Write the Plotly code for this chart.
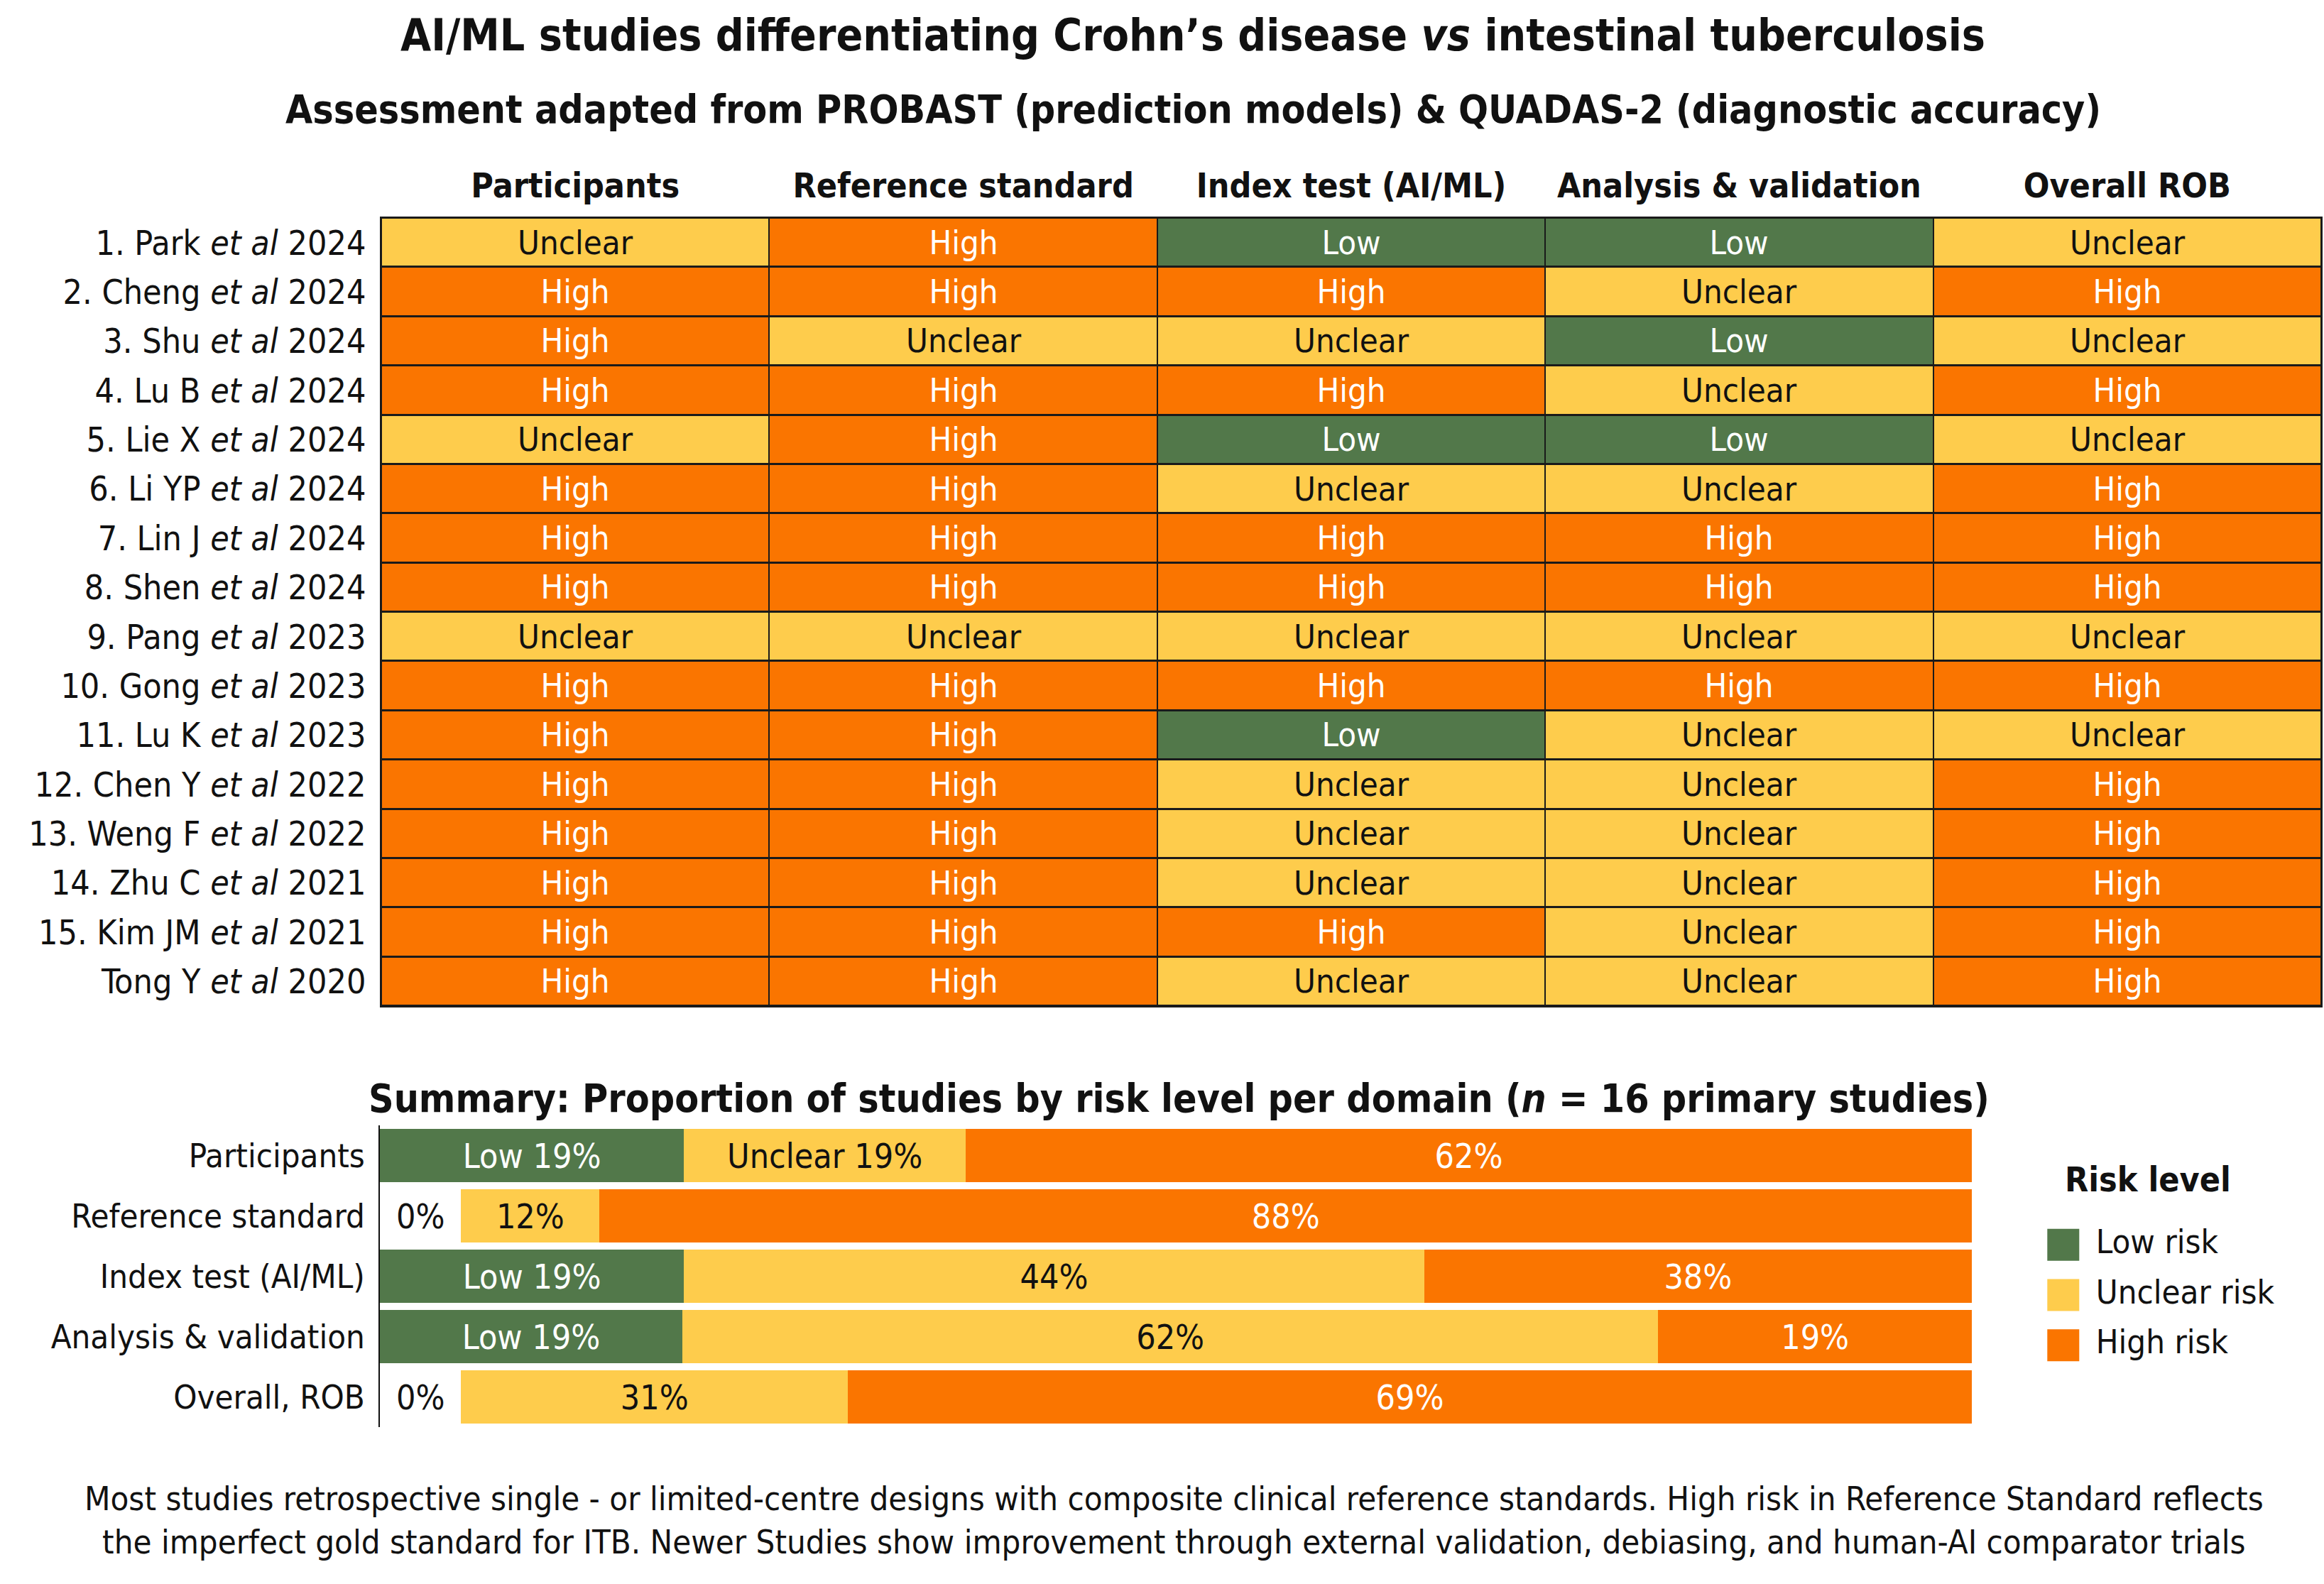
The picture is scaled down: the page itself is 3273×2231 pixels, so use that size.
import plotly.graph_objects as go

FONT = "DejaVu Sans Condensed"
INK = "#111111"
GREEN = "#52784A"
YELLOW = "#FECC4C"
ORANGE = "#FA7500"
W, H = 3273, 2231

# ---- risk-of-bias table ----
studies = [
    "1. Park <i>et al</i> 2024",
    "2. Cheng <i>et al</i> 2024",
    "3. Shu <i>et al</i> 2024",
    "4. Lu B <i>et al</i> 2024",
    "5. Lie X <i>et al</i> 2024",
    "6. Li YP <i>et al</i> 2024",
    "7. Lin J <i>et al</i> 2024",
    "8. Shen <i>et al</i> 2024",
    "9. Pang <i>et al</i> 2023",
    "10. Gong <i>et al</i> 2023",
    "11. Lu K <i>et al</i> 2023",
    "12. Chen Y <i>et al</i> 2022",
    "13. Weng F <i>et al</i> 2022",
    "14. Zhu C <i>et al</i> 2021",
    "15. Kim JM <i>et al</i> 2021",
    "Tong Y <i>et al</i> 2020",
]
domains = ["Participants", "Reference standard", "Index test (AI/ML)",
           "Analysis & validation", "Overall ROB"]
ratings = [
    ["Unclear", "High", "Low", "Low", "Unclear"],
    ["High", "High", "High", "Unclear", "High"],
    ["High", "Unclear", "Unclear", "Low", "Unclear"],
    ["High", "High", "High", "Unclear", "High"],
    ["Unclear", "High", "Low", "Low", "Unclear"],
    ["High", "High", "Unclear", "Unclear", "High"],
    ["High", "High", "High", "High", "High"],
    ["High", "High", "High", "High", "High"],
    ["Unclear", "Unclear", "Unclear", "Unclear", "Unclear"],
    ["High", "High", "High", "High", "High"],
    ["High", "High", "Low", "Unclear", "Unclear"],
    ["High", "High", "Unclear", "Unclear", "High"],
    ["High", "High", "Unclear", "Unclear", "High"],
    ["High", "High", "Unclear", "Unclear", "High"],
    ["High", "High", "High", "Unclear", "High"],
    ["High", "High", "Unclear", "Unclear", "High"],
]

levels = ["Low", "Unclear", "High"]
level_fill = {"Low": GREEN, "Unclear": YELLOW, "High": ORANGE}
level_ink = {"Low": "white", "Unclear": INK, "High": "white"}

# ---- summary bars (segment lengths as drawn, % of bar) ----
summary_domains = ["Participants", "Reference standard", "Index test (AI/ML)",
                   "Analysis & validation", "Overall, ROB"]
low_share = [19.1, 0, 19.1, 19.0, 0]
blank_share = [0, 5.1, 0, 0, 5.1]
unclear_share = [17.7, 8.7, 46.5, 61.3, 24.3]
high_share = [63.2, 86.2, 34.4, 19.7, 70.6]
low_labels = ["Low 19%", "", "Low 19%", "Low 19%", ""]
blank_labels = ["", "0%", "", "", "0%"]
unclear_labels = ["Unclear 19%", "12%", "44%", "62%", "31%"]
high_labels = ["62%", "88%", "38%", "19%", "69%"]

legend_labels = ["Low risk", "Unclear risk", "High risk"]


def py(px):
    return 1 - px / H


def px_x(px):
    return px / W


fig = go.Figure()

for lvl in levels:
    z = [[1 if r == lvl else None for r in row] for row in ratings]
    txt = [[r if r == lvl else "" for r in row] for row in ratings]
    fig.add_trace(go.Heatmap(
        x=domains, y=studies, z=z, text=txt, texttemplate="%{text}",
        textfont=dict(family=FONT, size=47, color=level_ink[lvl]),
        colorscale=[[0, level_fill[lvl]], [1, level_fill[lvl]]],
        zmin=0, zmax=1, showscale=False, xgap=2, ygap=3,
        hoverinfo="skip", xaxis="x", yaxis="y"))

bar_specs = [
    (low_share, low_labels, GREEN, "white"),
    (blank_share, blank_labels, "white", INK),
    (unclear_share, unclear_labels, YELLOW, INK),
    (high_share, high_labels, ORANGE, "white"),
]
for vals, labels, fill, ink in bar_specs:
    fig.add_trace(go.Bar(
        x=vals, y=summary_domains, orientation="h", text=labels,
        textposition="inside", insidetextanchor="middle", textangle=0,
        constraintext="none",
        textfont=dict(family=FONT, size=48, color=ink),
        marker=dict(color=fill, line=dict(width=0)),
        hoverinfo="skip", showlegend=False, xaxis="x2", yaxis="y2"))

# legend: coloured squares, then labels pushed right by a wider invisible marker
fig.add_trace(go.Scatter(
    x=[0, 0, 0], y=legend_labels, mode="markers",
    marker=dict(symbol="square", size=45,
                color=[level_fill[l] for l in levels], line=dict(width=0)),
    cliponaxis=False, hoverinfo="skip", showlegend=False,
    xaxis="x3", yaxis="y3"))
fig.add_trace(go.Scatter(
    x=[0, 0, 0], y=legend_labels, mode="markers+text",
    text=legend_labels, textposition="middle right",
    textfont=dict(family=FONT, size=47, color=INK),
    marker=dict(size=72, opacity=0),
    cliponaxis=False, hoverinfo="skip", showlegend=False,
    xaxis="x3", yaxis="y3"))

annotations = [
    dict(text="AI/ML studies differentiating Crohn’s disease <i>vs</i> intestinal tuberculosis",
         x=px_x(1680), y=py(50), font=dict(size=62, weight="bold")),
    dict(text="Assessment adapted from PROBAST (prediction models) & QUADAS-2 (diagnostic accuracy)",
         x=px_x(1681), y=py(154), font=dict(size=55, weight="bold")),
    dict(text="Summary: Proportion of studies by risk level per domain (<i>n</i> = 16 primary studies)",
         x=px_x(1660), y=py(1547), font=dict(size=55, weight="bold")),
    dict(text="Risk level", x=px_x(3025), y=py(1661), font=dict(size=48, weight="bold")),
    dict(text="Most studies retrospective single - or limited-centre designs with composite clinical reference standards. "
              "High risk in Reference Standard reflects<br>the imperfect gold standard for ITB. Newer Studies show "
              "improvement through external validation, debiasing, and human-AI comparator trials",
         x=px_x(1653), y=py(2141), font=dict(size=47)),
]
for a in annotations:
    a.update(xref="paper", yref="paper", showarrow=False,
             xanchor="center", yanchor="middle")
    a["font"].update(family=FONT, color=INK)

fig.update_layout(
    width=W, height=H,
    margin=dict(l=0, r=0, t=0, b=0),
    paper_bgcolor="white", plot_bgcolor="white",
    font=dict(family=FONT, color=INK, size=47),
    barmode="stack", bargap=0.12,
    annotations=annotations,
    shapes=[dict(type="rect", xref="x domain", yref="y domain",
                 x0=0, x1=1, y0=0, y1=1, layer="below",
                 fillcolor="#1A1A1A", line=dict(width=0))],
    xaxis=dict(domain=[px_x(537), px_x(3269)], side="top", ticks="",
               showgrid=False, zeroline=False, showline=True, mirror=True,
               linecolor="#1A1A1A", linewidth=2, ticklabelstandoff=8,
               tickfont=dict(size=48, weight="bold")),
    yaxis=dict(domain=[py(1417), py(307)], autorange="reversed", ticks="",
               showgrid=False, zeroline=False, showline=True, mirror=True,
               linecolor="#1A1A1A", linewidth=2, ticklabelstandoff=10,
               tickfont=dict(size=48)),
    xaxis2=dict(domain=[px_x(535), px_x(2777)], range=[0, 100], visible=False,
                anchor="y2"),
    yaxis2=dict(domain=[py(2010), py(1585)], autorange="reversed", ticks="",
                showgrid=False, zeroline=False, showline=True, linecolor=INK,
                linewidth=1.5, ticklabelstandoff=10, tickfont=dict(size=47),
                anchor="x2"),
    xaxis3=dict(domain=[0.87, 1.0], range=[-1, 6.3], visible=False, anchor="y3"),
    yaxis3=dict(domain=[py(1930), py(1718)], range=[2.5, -0.5],
                visible=False, anchor="x3"),
)

fig.write_html("out.html", config={"displayModeBar": False},
               post_script="document.body.style.margin = '0';")
